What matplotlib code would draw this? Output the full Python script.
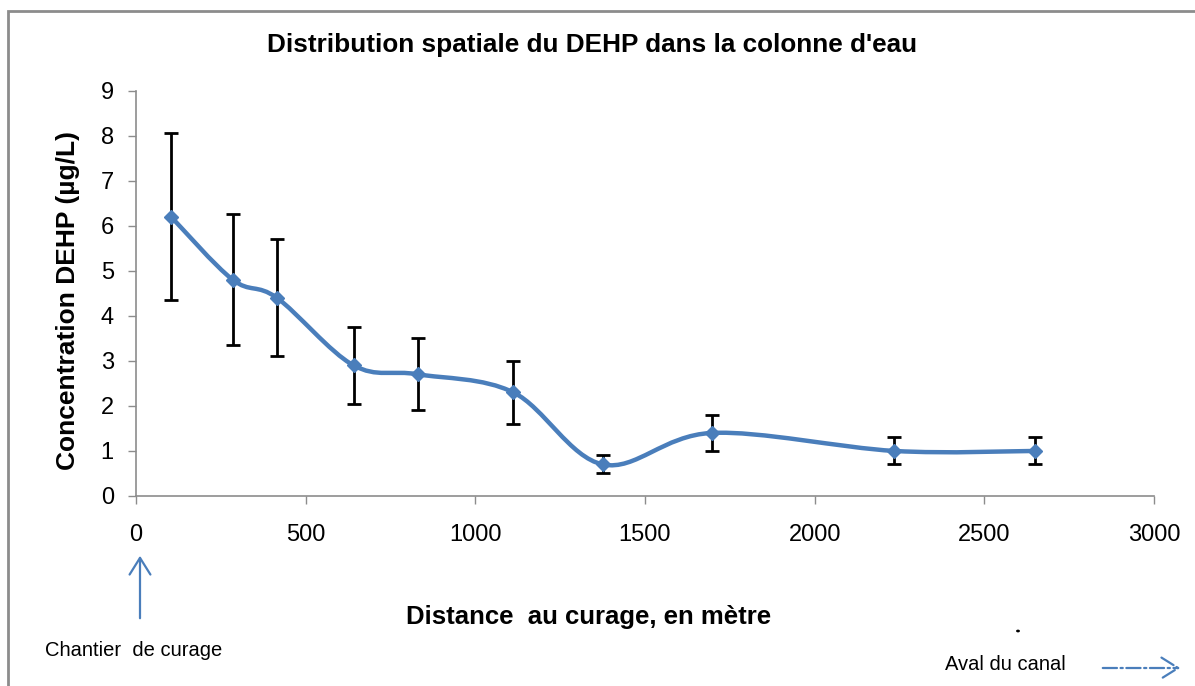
import numpy as np
import matplotlib
matplotlib.use("Agg")
import matplotlib.pyplot as plt
from matplotlib.path import Path
from matplotlib.patches import PathPatch, Rectangle, FancyArrowPatch, Circle

plt.rcParams["font.family"] = ["Liberation Sans", "DejaVu Sans"]

# =========================================================
# DATA
# =========================================================
distance_m = [103, 285, 415, 641, 832, 1112, 1376, 1697, 2235, 2650]
dehp_ugl = [6.2, 4.8, 4.4, 2.9, 2.7, 2.3, 0.7, 1.4, 1.0, 1.0]
dehp_err = [1.85, 1.45, 1.3, 0.85, 0.8, 0.7, 0.2, 0.4, 0.3, 0.3]

x_ticks = [0, 500, 1000, 1500, 2000, 2500, 3000]
y_ticks = [0, 1, 2, 3, 4, 5, 6, 7, 8, 9]

LINE_BLUE = "#4a7ebb"
GRID_GREY = "#8c8c8c"


def smooth_path(xs, ys):
    # excel-like smoothed line: bezier segments with catmull-rom handles
    pts = np.column_stack([xs, ys]).astype(float)
    n = len(pts)
    verts = [pts[0]]
    codes = [Path.MOVETO]
    for i in range(n - 1):
        p0 = pts[i - 1] if i > 0 else pts[i]
        p1 = pts[i]
        p2 = pts[i + 1]
        p3 = pts[i + 2] if i + 2 < n else pts[i + 1]
        c1 = p1 + (p2 - p0) / 6.0
        c2 = p2 - (p3 - p1) / 6.0
        verts += [c1, c2, p2]
        codes += [Path.CURVE4] * 3
    return Path(verts, codes)


# =========================================================
# PLOT
# =========================================================
fig = plt.figure(figsize=(11.95, 6.86), dpi=100)
W, H = 1195, 686

# chart frame (runs off right/bottom edge)
fig.patches.append(Rectangle((8 / W, -0.05), 1.1, (H - 11) / H + 0.05,
                             transform=fig.transFigure, fill=False,
                             edgecolor=GRID_GREY, linewidth=2))

ax = fig.add_axes([136 / W, 1 - 496 / H, (1154 - 136) / W, (496 - 90.5) / H])

ax.errorbar(distance_m, dehp_ugl, yerr=dehp_err, fmt="none", ecolor="black",
            elinewidth=2, capsize=5, capthick=2, zorder=2)
ax.add_patch(PathPatch(smooth_path(distance_m, dehp_ugl), facecolor="none",
                       edgecolor=LINE_BLUE, linewidth=3.2, zorder=3))
ax.plot(distance_m, dehp_ugl, linestyle="none", marker="D", markersize=7,
        color=LINE_BLUE, zorder=4)

ax.set_xlim(0, 3000)
ax.set_ylim(0, 9)
ax.set_xticks(x_ticks)
ax.set_yticks(y_ticks)
ax.tick_params(axis="both", direction="out", length=6, width=1,
               color=GRID_GREY, labelsize=17)
ax.tick_params(axis="x", pad=14)
ax.tick_params(axis="y", pad=10)
for side in ["top", "right"]:
    ax.spines[side].set_visible(False)
for side in ["left", "bottom"]:
    ax.spines[side].set_color(GRID_GREY)
    ax.spines[side].set_linewidth(1.2)

fig.text(592 / W, 1 - 45 / H,
         "Distribution spatiale du DEHP dans la colonne d'eau",
         fontsize=18.8, fontweight="bold", ha="center", va="center")
fig.text(68 / W, 1 - 301 / H, "Concentration DEHP (µg/L)", fontsize=19,
         fontweight="bold", rotation=90, ha="center", va="center")
fig.text(589 / W, 1 - 617 / H, "Distance  au curage, en mètre",
         fontsize=18.5, fontweight="bold", ha="center", va="center")

# annotations below the axis
fig.text(45 / W, 1 - 650 / H, "Chantier  de curage", fontsize=14.5,
         ha="left", va="center")
fig.patches.append(FancyArrowPatch(
    (140 / W, 1 - 621 / H), (140 / W, 1 - 553 / H),
    transform=fig.transFigure, arrowstyle="->,head_length=12,head_width=7.5",
    color=LINE_BLUE, linewidth=1.6))

fig.text(945 / W, 1 - 665 / H, "Aval du canal", fontsize=14.5,
         ha="left", va="center")
fig.patches.append(FancyArrowPatch(
    (1100 / W, 1 - 668 / H), (1183 / W, 1 - 668 / H),
    transform=fig.transFigure, arrowstyle="->,head_length=12,head_width=7.5",
    color=LINE_BLUE, linewidth=1.6, linestyle="-."))

# small stray dot in the source picture
fig.patches.append(Circle((1018 / W, 1 - 631 / H), 1.2 / W,
                          transform=fig.transFigure, color="black"))

fig.savefig("out.png", dpi=100)
